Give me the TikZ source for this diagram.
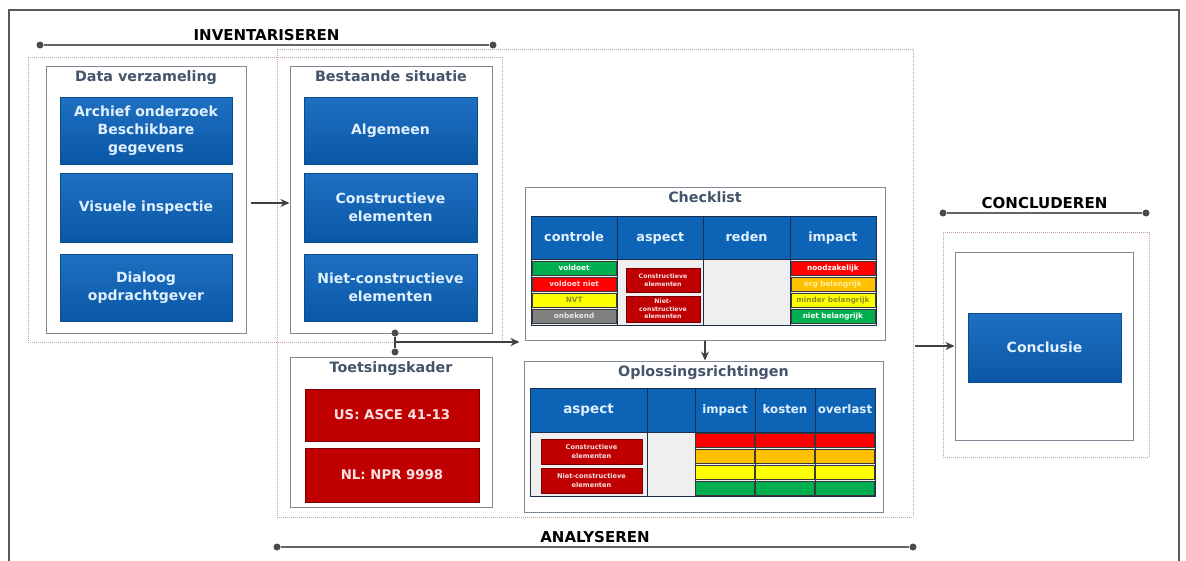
\documentclass[tikz,border=0pt]{standalone}
\usepackage{fontspec}
\setmainfont{DejaVu Sans}
\usetikzlibrary{positioning,arrows.meta}

\definecolor{boxblue}{HTML}{0A57A6}
\definecolor{boxbluetop}{HTML}{1F70C2}
\definecolor{boxedge}{HTML}{0A4C8E}
\definecolor{hdrblue}{HTML}{0D63B6}
\definecolor{hdredge}{HTML}{1C2E4A}
\definecolor{boxred}{HTML}{C00000}
\definecolor{rededge}{HTML}{7A0000}
\definecolor{redtext}{HTML}{F8E2E2}
\definecolor{lighttext}{HTML}{E0F0FF}
\definecolor{slate}{HTML}{44546A}
\definecolor{panelgray}{HTML}{7F8A96}
\definecolor{framegray}{HTML}{5A5A5A}
\definecolor{dotpink}{HTML}{C4A0A8}
\definecolor{linegray}{HTML}{4A4A4A}
\definecolor{conngray}{HTML}{404040}
\definecolor{cellgray}{HTML}{EFEFEF}
\definecolor{baredge}{HTML}{3A3A3A}
\definecolor{ok}{HTML}{00B050}
\definecolor{bad}{HTML}{FF0000}
\definecolor{warn}{HTML}{FFC000}
\definecolor{mid}{HTML}{FFFF00}
\definecolor{unknown}{HTML}{808080}
\definecolor{pinktext}{HTML}{FFD8D8}
\definecolor{olivetext}{HTML}{8C8A20}
\definecolor{graytext}{HTML}{E8E8E8}
\definecolor{paleyellow}{HTML}{FFF0A0}

\begin{document}
\begin{tikzpicture}
[
	x=1pt, y=-1pt, >={Stealth[length=9pt,width=8pt]},
	wh/.style 2 args={minimum width=#1pt, minimum height=#2pt},
	outerframe/.style={draw=framegray, line width=1.2pt},
	region/.style={draw=dotpink, line width=0.9pt, dash pattern=on 1pt off 1pt, inner sep=0pt},
	panel/.style={draw=panelgray, fill=white, line width=1pt, inner sep=0pt},
	paneltitle/.style={text=slate, font=\fontsize{14.3}{16}\selectfont\bfseries, inner sep=0pt},
	bluebox/.style={top color=boxbluetop, bottom color=boxblue, draw=boxedge, inner sep=0pt, align=center, text=lighttext, font=\fontsize{14}{18}\selectfont\bfseries},
	redbox/.style={fill=boxred, draw=rededge, inner sep=0pt, align=center, text=redtext, font=\fontsize{13.3}{15}\selectfont\bfseries},
	hdrcell/.style={fill=hdrblue, draw=hdredge, inner sep=0pt, text height=9.5pt, text depth=2.5pt, text=lighttext, font=\fontsize{12.8}{14}\selectfont\bfseries},
	bodycell/.style={fill=cellgray, draw=hdredge, inner sep=0pt},
	bar/.style={draw=baredge, inner sep=0pt, text height=5.4pt, text depth=1.4pt, font=\fontsize{7.3}{8}\selectfont\bfseries},
	tinyred/.style={fill=boxred, draw=rededge, inner sep=0pt, align=center, text=redtext, font=\fontsize{6.2}{7.5}\selectfont\bfseries},
	joint/.style={circle, fill=linegray, inner sep=0pt, minimum size=7pt},
	phaseline/.style={draw=linegray!85, line width=1.3pt},
	phase/.style={font=\fontsize{15}{17}\selectfont\bfseries, inner sep=0pt},
	conn/.style={draw=conngray, line width=1.6pt}
]

	\useasboundingbox (0,0) rectangle (1186,560);
	\fill[white] (0,0) rectangle (1186,560);

	% frame round everything
	\draw[outerframe] (9,570) -- (9,10) -- (1179,10) -- (1179,570);

	% phase regions
	\node[region, wh={474}{285}] (invregion) at (265,199.5) {};
	\node[region, wh={636}{468}] (anaregion) at (595,283) {};
	\node[region, wh={206}{225}] (conregion) at (1046,344.5) {};

	% phase labels
	\node[joint] (inv-a) at (40,45) {};
	\node[joint] (inv-b) at (493,45) {};
	\draw[phaseline] (inv-a) -- node[phase, above=4pt] (invlabel) {INVENTARISEREN} (inv-b);

	\node[joint] (ana-a) at (277,547) {};
	\node[joint] (ana-b) at (913,547) {};
	\draw[phaseline] (ana-a) -- node[phase, above=4pt] (analabel) {ANALYSEREN} (ana-b);

	\node[joint] (con-a) at (943,213) {};
	\node[joint] (con-b) at (1146,213) {};
	\draw[phaseline] (con-a) -- node[phase, above=4pt] (conlabel) {CONCLUDEREN} (con-b);

	% data verzameling
	\node[panel, wh={200}{267}] (datavz) at (146,199.5) {};
	\node[paneltitle, below=4.5pt of datavz.north] (datavz-t) {Data verzameling};
	\node[bluebox, wh={172}{67}] (archief) at (146,130.5) {Archief onderzoek\\Beschikbare\\gegevens};
	\node[bluebox, wh={172}{69}] (visueel) at (146,207.5) {Visuele inspectie};
	\node[bluebox, wh={172}{67}] (dialoog) at (146,287.5) {Dialoog\\opdrachtgever};

	% bestaande situatie
	\node[panel, wh={202}{267}] (bestaand) at (391,199.5) {};
	\node[paneltitle, below=4.5pt of bestaand.north] (bestaand-t) {Bestaande situatie};
	\node[bluebox, wh={173}{67}] (algemeen) at (390.5,130.5) {Algemeen};
	\node[bluebox, wh={173}{69}] (constr) at (390.5,207.5) {Constructieve\\elementen};
	\node[bluebox, wh={173}{67}] (nietconstr) at (390.5,287.5) {Niet-constructieve\\elementen};

	\draw[conn,->] ([xshift=4pt,yshift=-3.5pt]datavz.east) -- ([yshift=-3.5pt]bestaand.west);

	% toetsingskader
	\node[panel, wh={202}{150}] (toets) at (391,432) {};
	\node[paneltitle, below=4.5pt of toets.north] (toets-t) {Toetsingskader};
	\node[redbox, wh={174}{52}] (asce) at (392,415) {US: ASCE 41-13};
	\node[redbox, wh={174}{54}] (npr) at (392,475) {NL: NPR 9998};

	% checklist
	\node[panel, wh={360}{153}] (checklist) at (705,263.5) {};
	\node[paneltitle, below=4.5pt of checklist.north] (checklist-t) {Checklist};
	\foreach \name [count=\i from 0] in {controle,aspect,reden,impact}
	{
		\node[hdrcell, wh={86.25}{43}] (chk-h\i) at ({574.125+86.25*\i},237.5) {\name};
		\node[bodycell, wh={86.25}{66}] (chk-b\i) at ({574.125+86.25*\i},292) {};
	}
	\foreach \txt/\barcol/\ink [count=\i from 0] in {voldoet/ok/white, voldoet niet/bad/pinktext, NVT/mid/olivetext, onbekend/unknown/graytext}
		\node[bar, fill=\barcol, text=\ink, wh={84}{14}] (ctl-\i) at (574.125,{268.5+16*\i}) {\txt};
	\foreach \txt/\barcol/\ink [count=\i from 0] in {noodzakelijk/bad/white, erg belangrijk/warn/paleyellow, minder belangrijk/mid/olivetext, niet belangrijk/ok/white}
		\node[bar, fill=\barcol, text=\ink, wh={84}{14}] (imp-\i) at (832.875,{268.5+16*\i}) {\txt};
	\node[tinyred, wh={74}{24}] (chk-c) at (663,280) {Constructieve\\elementen};
	\node[tinyred, wh={74}{26}] (chk-n) at (663,309) {Niet-\\constructieve\\elementen};

	% oplossingsrichtingen
	\node[panel, wh={359}{151}] (oplos) at (703.5,436.5) {};
	\node[paneltitle, below=4.5pt of oplos.north] (oplos-t) {Oplossingsrichtingen};
	\foreach \cx/\w/\name/\fs [count=\i from 0] in {588.5/117/aspect/13.5, 671/48/{}/12, 725/60/impact/11.8, 785/60/kosten/11.8, 845/60/overlast/11.8}
	{
		\node[hdrcell, wh={\w}{44}, font=\fontsize{\fs}{14}\selectfont\bfseries] (opl-h\i) at (\cx,410) {\name};
		\node[bodycell, wh={\w}{64}] (opl-b\i) at (\cx,464) {};
	}
	\foreach \cx in {725,785,845}
		\foreach \barcol [count=\r from 0] in {bad,warn,mid,ok}
			\node[bar, fill=\barcol, wh={59}{14}] (opl-\cx-\r) at (\cx,{440.5+16*\r}) {};
	\node[tinyred, font=\fontsize{6.6}{8.5}\selectfont\bfseries, wh={101}{25}] (opl-c) at (591.5,451.5) {Constructieve\\elementen};
	\node[tinyred, font=\fontsize{6.6}{8.5}\selectfont\bfseries, wh={101}{25}] (opl-n) at (591.5,480.5) {Niet-constructieve\\elementen};

	% conclusie
	\node[panel, wh={178}{188}] (conclbox) at (1044,346) {};
	\node[bluebox, wh={153}{69}] (conclusie) at (1044.5,347.5) {Conclusie};

	% connectors
	\node[joint] (j-top) at (395,333) {};
	\node[joint] (j-bot) at (395,352) {};
	\coordinate (j-mid) at (395,342);
	\draw[conn] (j-top) -- (j-bot);
	\draw[conn,->,shorten >=5pt] (j-mid) -- (checklist.west |- j-mid);
	\draw[conn,->] (checklist.south) -- (checklist.south |- oplos.north);
	\draw[conn,->] ([xshift=2pt]anaregion.east |- conclbox.west) -- (conclbox.west);

\end{tikzpicture}
\end{document}
